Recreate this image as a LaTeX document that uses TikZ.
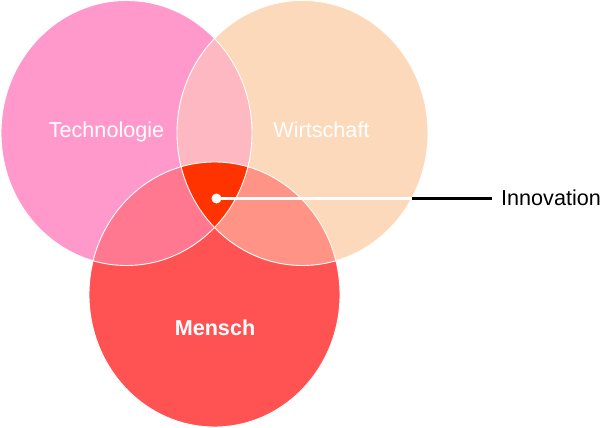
\documentclass[tikz,border=0pt]{standalone}
\usepackage{fontspec}
\setmainfont{Liberation Sans}
\usetikzlibrary{positioning}

\definecolor{techfill}{HTML}{FF99CC}
\definecolor{wirtfill}{HTML}{FCD9BA}
\definecolor{menschfill}{HTML}{FF5252}
\definecolor{techwirt}{HTML}{FDB8C1}
\definecolor{techmensch}{HTML}{FF788F}
\definecolor{wirtmensch}{HTML}{FF9486}
\definecolor{innovfill}{HTML}{FF3300}

\begin{document}
\begin{tikzpicture}[x=1pt, y=-1pt,
		circletext/.style={text=white, font=\fontsize{21.6}{26}\selectfont, inner sep=0pt, anchor=base},
		rim/.style={draw=white, line width=0.9pt},
		labeltext/.style={font=\fontsize{21.6}{26}\selectfont, inner xsep=9pt, inner ysep=0pt, anchor=base west}
	]
		\useasboundingbox (0,0) rectangle (600,428);
		\def\tech{(126.5,133) ellipse [x radius=125.5pt, y radius=132.5pt]}
		\def\wirt{(302.5,133) ellipse [x radius=125.5pt, y radius=132.5pt]}
		\def\mensch{(214.5,294.5) ellipse [x radius=125.5pt, y radius=132.5pt]}

		\fill[techfill] \tech;
		\fill[wirtfill] \wirt;
		\fill[menschfill] \mensch;
		\begin{scope}
			\clip \wirt;
			\fill[wirtmensch] \mensch;
		\end{scope}
		\begin{scope}
			\clip \tech;
			\fill[techwirt] \wirt;
			\fill[techmensch] \mensch;
			\clip \wirt;
			\fill[innovfill] \mensch;
		\end{scope}
		\draw[rim] \tech;
		\draw[rim] \wirt;
		\draw[rim] \mensch;

		\node[circletext] (technologie) at (106.5,137) {Technologie};
		\node[circletext] (wirtschaft) at (321.5,137) {Wirtschaft};
		\node[circletext, font=\fontsize{21.6}{26}\selectfont\bfseries] (menschlabel) at (215,335) {Mensch};

		\node[circle, fill=white, inner sep=0pt, minimum size=10pt] (innovdot) at (216.5,198.5) {};
		\coordinate (innovedge) at (412,198.5);
		\node[labeltext] (innovation) at (492,205.5) {Innovation};

		\draw[white, line width=2.5pt] (innovdot.center) -- (innovedge);
		\draw[black, line width=3.2pt] (innovedge) -- (innovation.west |- innovedge);
	\end{tikzpicture}
\end{document}
